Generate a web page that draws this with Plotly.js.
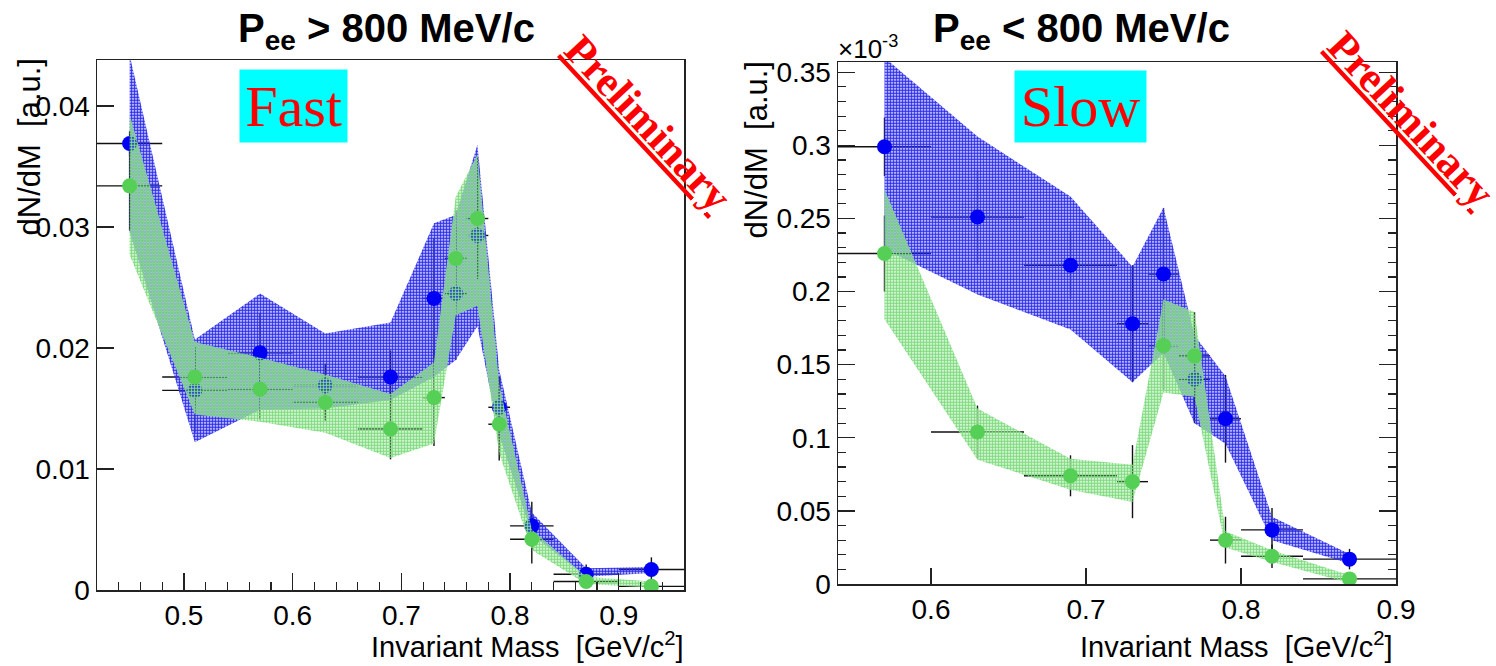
<!DOCTYPE html>
<html>
<head>
<meta charset="utf-8">
<script src="https://cdn.plot.ly/plotly-3.0.1.min.js"></script>
<style>html,body{margin:0;padding:0;background:#fff;}#plot{width:1496px;height:666px;}</style>
</head>
<body>
<div id="plot"></div>
<script>
// ---------- Left panel: P_ee > 800 MeV/c ("Fast") ----------
const massFast       = [0.45, 0.51, 0.57, 0.63, 0.69, 0.73, 0.75, 0.77, 0.79, 0.82, 0.87, 0.93];
const binHalfFast    = [0.03, 0.03, 0.03, 0.03, 0.03, 0.01, 0.01, 0.01, 0.01, 0.02, 0.03, 0.03];
const fastBlue       = [0.0369, 0.0165, 0.0196, 0.0169, 0.0176, 0.0241, 0.0245, 0.0293, 0.0151, 0.0053, 0.0013, 0.0017];
const fastBlueStat   = [0.0010, 0.0035, 0.0033, 0.0018, 0.0022, 0.0050, 0.0055, 0.0035, 0.0025, 0.0020, 0.0008, 0.0010];
const fastBlueSysHi  = [0.0442, 0.0207, 0.0245, 0.0212, 0.0221, 0.0303, 0.0310, 0.0368, 0.0182, 0.0064, 0.0018, 0.0019];
const fastBlueSysLo  = [0.0296, 0.0122, 0.0149, 0.0150, 0.0157, 0.0176, 0.0190, 0.0218, 0.0128, 0.0046, 0.0011, 0.0014];
const fastGreen      = [0.0334, 0.0176, 0.0166, 0.0155, 0.0133, 0.0159, 0.0274, 0.0307, 0.0137, 0.0042, 0.0007, 0.0003];
const fastGreenStat  = [0.0037, 0.0025, 0.0025, 0.0015, 0.0025, 0.0040, 0.0040, 0.0050, 0.0030, 0.0020, 0.0005, 0.0004];
const fastGreenSysHi = [0.0393, 0.0205, 0.0192, 0.0178, 0.0162, 0.0188, 0.0325, 0.0360, 0.0170, 0.0050, 0.0011, 0.0007];
const fastGreenSysLo = [0.0277, 0.0145, 0.0139, 0.0130, 0.0109, 0.0121, 0.0227, 0.0235, 0.0113, 0.0033, 0.0005, 0.0002];

// ---------- Right panel: P_ee < 800 MeV/c ("Slow"), values in units of 1e-3 ----------
const massSlow       = [0.57, 0.63, 0.69, 0.73, 0.75, 0.77, 0.79, 0.82, 0.87];
const binHalfSlow    = [0.03, 0.03, 0.03, 0.01, 0.01, 0.01, 0.01, 0.02, 0.03];
const slowBlue       = [0.299, 0.251, 0.218, 0.178, 0.212, 0.140, 0.113, 0.037, 0.017];
const slowBlueStat   = [0.020, 0.032, 0.023, 0.040, 0.045, 0.030, 0.030, 0.015, 0.007];
const slowBlueSysHi  = [0.360, 0.306, 0.265, 0.217, 0.2575, 0.170, 0.142, 0.046, 0.0205];
const slowBlueSysLo  = [0.229, 0.198, 0.174, 0.138, 0.158, 0.110, 0.096, 0.030, 0.014];
const slowGreen      = [0.226, 0.104, 0.074, 0.070, 0.163, 0.156, 0.030, 0.019, 0.0035];
const slowGreenStat  = [0.026, 0.018, 0.014, 0.025, 0.030, 0.030, 0.016, 0.008, 0.003];
const slowGreenSysHi = [0.270, 0.120, 0.0856, 0.0815, 0.1945, 0.186, 0.036, 0.023, 0.006];
const slowGreenSysLo = [0.181, 0.085, 0.0644, 0.056, 0.131, 0.128, 0.025, 0.015, 0.0007];

// ---------- text ----------
const titleFast = "<b>P<sub>ee</sub> &gt; 800 MeV/c</b>";
const titleSlow = "<b>P<sub>ee</sub> &lt; 800 MeV/c</b>";
const yTitle = "dN/dM  [a.u.]";
const xTitle = "Invariant Mass  [GeV/c<sup>2</sup>]";

// ---------- helpers ----------
const W = 1496, H = 666;
const fx = px => px / W;
const fy = py => 1 - py / H;

const BLUE_MK = '#0000f5', GREEN_MK = '#55cf55';
const BLUE_BAND = '#3030f0', GREEN_BAND = '#80dc80';

function errbars(x, y, ex, ey, xa, ya) {
  return {
    type: 'scatter', mode: 'markers', x: x, y: y, xaxis: xa, yaxis: ya,
    marker: {size: 1, opacity: 0},
    error_x: {type: 'data', array: ex, color: '#111', thickness: 1.4, width: 0},
    error_y: {type: 'data', array: ey, color: '#111', thickness: 1.4, width: 0},
    hoverinfo: 'skip'
  };
}
function markers(x, y, color, xa, ya) {
  return {
    type: 'scatter', mode: 'markers', x: x, y: y, xaxis: xa, yaxis: ya,
    marker: {color: color, size: 15, line: {width: 0}}, hoverinfo: 'skip'
  };
}
function band(x, hi, lo, color, xa, ya) {
  const xs = x.concat(x.slice().reverse());
  const ys = hi.concat(lo.slice().reverse());
  return {
    type: 'scatter', mode: 'lines', x: xs, y: ys, xaxis: xa, yaxis: ya,
    fill: 'toself', fillcolor: color, line: {width: 0, color: color},
    fillpattern: {shape: '.', size: 3, solidity: 0.66, fgcolor: color, bgcolor: 'rgba(0,0,0,0)', fillmode: 'replace'},
    hoverinfo: 'skip'
  };
}

const data = [
  errbars(massFast, fastBlue, binHalfFast, fastBlueStat, 'x', 'y'),
  errbars(massFast, fastGreen, binHalfFast, fastGreenStat, 'x', 'y'),
  band(massFast, fastBlueSysHi, fastBlueSysLo, BLUE_BAND, 'x', 'y'),
  markers(massFast, fastBlue, BLUE_MK, 'x', 'y'),
  band(massFast, fastGreenSysHi, fastGreenSysLo, GREEN_BAND, 'x', 'y'),
  markers(massFast, fastGreen, GREEN_MK, 'x', 'y'),

  errbars(massSlow, slowBlue, binHalfSlow, slowBlueStat, 'x2', 'y2'),
  errbars(massSlow, slowGreen, binHalfSlow, slowGreenStat, 'x2', 'y2'),
  band(massSlow, slowBlueSysHi, slowBlueSysLo, BLUE_BAND, 'x2', 'y2'),
  markers(massSlow, slowBlue, BLUE_MK, 'x2', 'y2'),
  band(massSlow, slowGreenSysHi, slowGreenSysLo, GREEN_BAND, 'x2', 'y2'),
  markers(massSlow, slowGreen, GREEN_MK, 'x2', 'y2')
];

const AX = {
  showgrid: false, zeroline: false, showline: true, linecolor: '#222', linewidth: 1.5,
  ticks: 'inside', tickcolor: '#222', tickwidth: 1.3,
  tickfont: {family: 'Liberation Sans, Arial, sans-serif', size: 28, color: '#000'}
};

const layout = {
  width: W, height: H,
  margin: {l: 0, r: 0, t: 0, b: 0},
  paper_bgcolor: '#fff', plot_bgcolor: '#fff',
  showlegend: false,
  font: {family: 'Liberation Sans, Arial, sans-serif', color: '#000'},
  xaxis: Object.assign({}, AX, {
    domain: [fx(97), fx(684)], range: [0.42, 0.96], anchor: 'y',
    tick0: 0, dtick: 0.1, ticklen: 17, mirror: true,
    minor: {tick0: 0, dtick: 0.02, ticks: 'inside', ticklen: 8, tickcolor: '#222', tickwidth: 1.2, showgrid: false}
  }),
  yaxis: Object.assign({}, AX, {
    domain: [fy(590), fy(60)], range: [0, 0.0438], anchor: 'x',
    tick0: 0, dtick: 0.01, ticklen: 17, mirror: true
  }),
  xaxis2: Object.assign({}, AX, {
    domain: [fx(838), fx(1396)], range: [0.54, 0.90], anchor: 'y2',
    tick0: 0, dtick: 0.1, ticklen: 16, mirror: true
  }),
  yaxis2: Object.assign({}, AX, {
    domain: [fy(584), fy(62)], range: [0, 0.357], anchor: 'x2',
    tick0: 0, dtick: 0.05, ticklen: 17, mirror: 'ticks',
    minor: {tick0: 0, dtick: 0.01, ticks: 'inside', ticklen: 8, tickcolor: '#222', tickwidth: 1.2, showgrid: false}
  }),
  annotations: [
    // titles
    {xref: 'paper', yref: 'paper', x: fx(387), y: fy(31), text: titleFast, showarrow: false,
     xanchor: 'center', yanchor: 'middle', font: {family: 'Liberation Sans, Arial, sans-serif', size: 40, color: '#000'}},
    {xref: 'paper', yref: 'paper', x: fx(1081), y: fy(31), text: titleSlow, showarrow: false,
     xanchor: 'center', yanchor: 'middle', font: {family: 'Liberation Sans, Arial, sans-serif', size: 40, color: '#000'}},
    {xref: 'paper', yref: 'paper', x: fx(836), y: fy(47), text: '\u00d710<sup>-3</sup>', showarrow: false,
     xanchor: 'left', yanchor: 'middle', font: {family: 'Liberation Sans, Arial, sans-serif', size: 26, color: '#000'}},
    // axis titles
    {xref: 'paper', yref: 'paper', x: fx(29), y: fy(57), text: yTitle, textangle: -90, showarrow: false,
     xanchor: 'center', yanchor: 'top', font: {size: 31, color: '#000'}},
    {xref: 'paper', yref: 'paper', x: fx(756), y: fy(60), text: yTitle, textangle: -90, showarrow: false,
     xanchor: 'center', yanchor: 'top', font: {size: 31, color: '#000'}},
    {xref: 'paper', yref: 'paper', x: fx(686), y: fy(645), text: xTitle, showarrow: false,
     xanchor: 'right', yanchor: 'middle', font: {size: 29, color: '#000'}},
    {xref: 'paper', yref: 'paper', x: fx(1395), y: fy(645), text: xTitle, showarrow: false,
     xanchor: 'right', yanchor: 'middle', font: {size: 29, color: '#000'}},
    // labels
    {xref: 'paper', yref: 'paper', x: fx(293.5), y: fy(106), text: 'Fast', showarrow: false,
     xanchor: 'center', yanchor: 'middle', bgcolor: '#00ffff', width: 97, height: 62, borderpad: 5,
     font: {family: 'Liberation Serif, Times New Roman, serif', size: 58, color: '#ff0000'}},
    {xref: 'paper', yref: 'paper', x: fx(1080.5), y: fy(107), text: 'Slow', showarrow: false,
     xanchor: 'center', yanchor: 'middle', bgcolor: '#00ffff', width: 121, height: 61, borderpad: 5,
     font: {family: 'Liberation Serif, Times New Roman, serif', size: 58, color: '#ff0000'}},
    {xref: 'paper', yref: 'paper', x: fx(649), y: fy(123), text: '<u><b>Preliminary</b></u>', textangle: 47, showarrow: false,
     xanchor: 'center', yanchor: 'middle',
     font: {family: 'Liberation Serif, Times New Roman, serif', size: 43, color: '#ff0000'}},
    {xref: 'paper', yref: 'paper', x: fx(1412), y: fy(119), text: '<u><b>Preliminary</b></u>', textangle: 47, showarrow: false,
     xanchor: 'center', yanchor: 'middle',
     font: {family: 'Liberation Serif, Times New Roman, serif', size: 43, color: '#ff0000'}}
  ]
};

Plotly.newPlot('plot', data, layout, {staticPlot: true, displayModeBar: false});
</script>
</body>
</html>
